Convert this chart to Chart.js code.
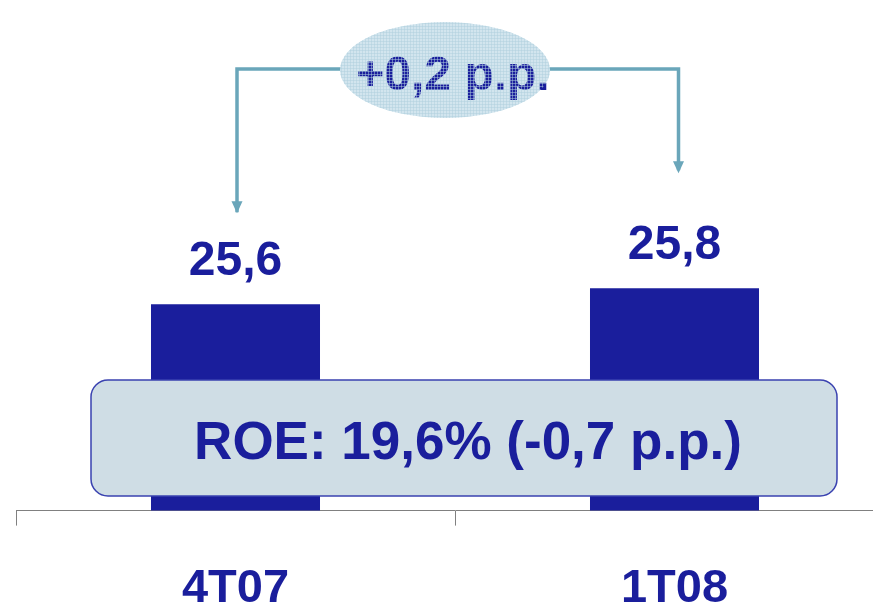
<!DOCTYPE html>
<html>
<head>
<meta charset="utf-8">
<script src="https://cdn.jsdelivr.net/npm/chart.js@4/dist/chart.umd.min.js"></script>
<style>
  html, body { margin: 0; padding: 0; background: #ffffff; overflow: hidden; }
  #wrap { width: 873px; height: 603px; overflow: hidden; position: relative; }
  canvas { display: block; }
</style>
</head>
<body>
<div id="wrap"><canvas id="c" width="894" height="652" style="width:894px;height:652px"></canvas></div>
<script>
// ---- data ----
const categories = ['4T07', '1T08'];
const values = [25.6, 25.8];
const changeLabel = '+0,2 p.p.';
const roeText = 'ROE: 19,6% (-0,7 p.p.)';

// ---- style ----
const NAVY = '#1a1e9c';
const ARROW = '#6aa6ba';
const FONT = '"Liberation Sans", Arial, sans-serif';

function fmt(v) { return v.toFixed(1).replace('.', ','); }

function makePattern(ctx) {
  const pc = document.createElement('canvas');
  pc.width = 3; pc.height = 3;
  const p = pc.getContext('2d');
  p.clearRect(0, 0, 3, 3);
  p.fillStyle = 'rgba(175,208,222,0.5)';
  p.fillRect(0, 2, 3, 1);
  p.fillRect(2, 0, 1, 3);
  return ctx.createPattern(pc, 'repeat');
}

const annotations = {
  id: 'annotations',
  afterDatasetsDraw(chart) {
    const ctx = chart.ctx;
    const meta = chart.getDatasetMeta(0);
    const b0 = meta.data[0], b1 = meta.data[1];

    // value labels above bars
    ctx.save();
    ctx.fillStyle = NAVY;
    ctx.font = 'bold 48px ' + FONT;
    ctx.textAlign = 'center';
    ctx.textBaseline = 'alphabetic';
    meta.data.forEach((bar, i) => {
      ctx.fillText(fmt(values[i]), bar.x, bar.y - 29);
    });
    ctx.restore();

    // arrows
    const lineY = 69;
    const ax0 = b0.x + 1.5, ax1 = b1.x + 4;
    ctx.save();
    ctx.strokeStyle = ARROW;
    ctx.fillStyle = ARROW;
    ctx.lineWidth = 3.5;
    ctx.beginPath();
    ctx.moveTo(ax0, b0.y - 92);
    ctx.lineTo(ax0, lineY);
    ctx.lineTo(ax1, lineY);
    ctx.lineTo(ax1, b1.y - 118);
    ctx.stroke();
    function head(x, tipY) {
      ctx.beginPath();
      ctx.moveTo(x - 5.5, tipY - 12);
      ctx.lineTo(x + 5.5, tipY - 12);
      ctx.lineTo(x, tipY);
      ctx.closePath();
      ctx.fill();
    }
    head(ax0, b0.y - 91);
    head(ax1, b1.y - 115);
    ctx.restore();

    // ellipse with change label
    const ex = 445, ey = 70, rx = 105, ry = 48;
    ctx.save();
    ctx.beginPath();
    ctx.ellipse(ex, ey, rx, ry, 0, 0, Math.PI * 2);
    ctx.fillStyle = '#d2e5ee';
    ctx.fill();
    ctx.restore();

    ctx.save();
    ctx.fillStyle = NAVY;
    ctx.font = 'bold 48px ' + FONT;
    ctx.textAlign = 'center';
    ctx.textBaseline = 'alphabetic';
    ctx.fillText(changeLabel, 453, 90);
    ctx.restore();

    ctx.save();
    ctx.beginPath();
    ctx.ellipse(ex, ey, rx, ry, 0, 0, Math.PI * 2);
    ctx.clip();
    ctx.fillStyle = makePattern(ctx);
    ctx.fillRect(ex - rx, ey - ry, rx * 2, ry * 2);
    ctx.restore();

    // ROE rounded box
    const bx = 91, by = 380, bw = 746, bh = 116, r = 17;
    ctx.save();
    ctx.beginPath();
    ctx.roundRect(bx, by, bw, bh, r);
    ctx.fillStyle = '#cfdde5';
    ctx.fill();
    ctx.lineWidth = 1.5;
    ctx.strokeStyle = '#3a42b0';
    ctx.stroke();
    ctx.fillStyle = NAVY;
    ctx.font = 'bold 53px ' + FONT;
    ctx.textAlign = 'center';
    ctx.textBaseline = 'alphabetic';
    ctx.fillText(roeText, 468, 459);
    ctx.restore();
  }
};

new Chart(document.getElementById('c'), {
  type: 'bar',
  data: {
    labels: categories,
    datasets: [{
      data: values,
      backgroundColor: NAVY,
      borderWidth: 0,
      categoryPercentage: 1.0,
      barPercentage: 0.385
    }]
  },
  options: {
    responsive: false,
    devicePixelRatio: 1,
    animation: false,
    layout: { padding: { left: 16, right: 0, top: 0, bottom: 0 } },
    plugins: { legend: { display: false }, tooltip: { enabled: false } },
    scales: {
      y: { display: false, min: 23.025, max: 29.4 },
      x: {
        grid: {
          display: true,
          offset: true,
          drawOnChartArea: false,
          drawTicks: true,
          tickLength: 15,
          color: '#808080',
          lineWidth: 1
        },
        border: { display: true, color: '#808080', width: 1 },
        ticks: {
          color: NAVY,
          font: { family: FONT, size: 47, weight: 'bold' },
          padding: 35,
          maxRotation: 0,
          autoSkip: false
        }
      }
    }
  },
  plugins: [annotations]
});
</script>
</body>
</html>
